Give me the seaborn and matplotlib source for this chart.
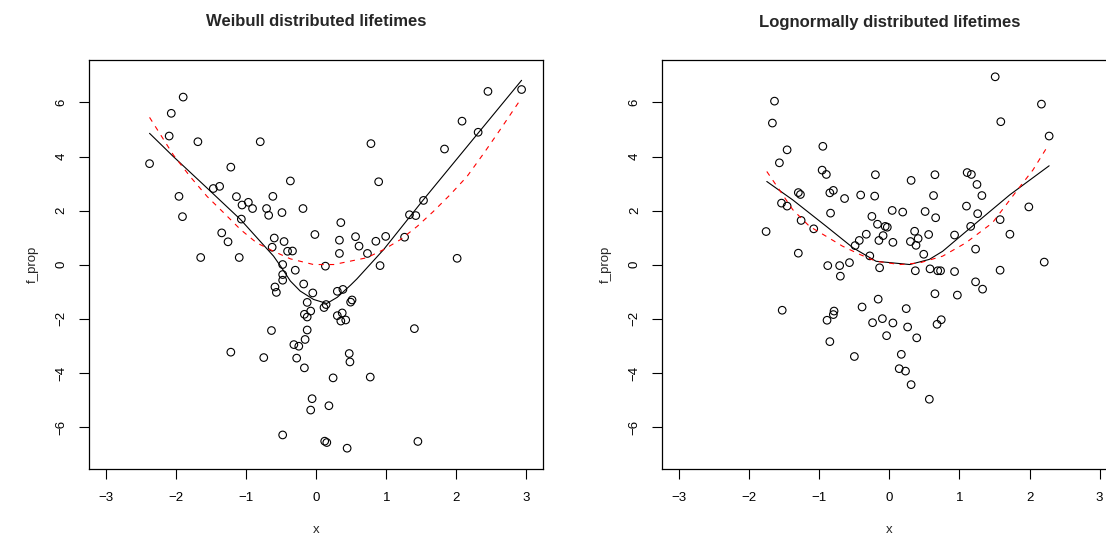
import matplotlib
matplotlib.use("Agg")
import matplotlib.pyplot as plt
import seaborn as sns
import pandas as pd

# ---------------- data ----------------
# Weibull panel: scatter
weib_x = [-1.90, -2.07, -2.10, -1.69, -0.80, -2.38, -1.22, -0.37, -1.47, -1.38,
          -1.96, -1.14, -0.62, -0.97, -1.06, -0.91, -0.71, -0.19, -0.68, -0.49,
          -1.91, -1.07, -0.02, -1.35, -1.26, -0.60, -0.46, -0.63, -0.41, -0.34,
          -1.65, -1.10, -0.48, -0.30, -0.48, -0.48, -0.59, -0.57, -0.18, -0.05,
          -0.13, -0.08, -0.17, -0.13, -0.64, -0.13, -0.16, -0.32, -0.25, -1.22,
          -0.75, -0.28, -0.17, -0.06, -0.08, -0.48, 2.45, 2.93, 2.08, 2.31,
          1.83, 0.78, 0.89, 1.53, 1.33, 1.42, 0.35, 0.33, 0.56, 0.85,
          0.99, 1.26, 0.61, 0.33, 0.73, 2.01, 0.13, 0.91, 0.30, 0.38,
          0.14, 0.11, 0.49, 0.51, 0.30, 0.37, 0.35, 0.42, 1.40, 0.47,
          0.48, 0.24, 0.77, 0.18, 0.12, 0.15, 0.44, 1.45]
weib_y = [6.20, 5.60, 4.76, 4.55, 4.55, 3.74, 3.61, 3.10, 2.82, 2.90,
          2.53, 2.52, 2.53, 2.31, 2.21, 2.08, 2.08, 2.08, 1.83, 1.93,
          1.78, 1.69, 1.12, 1.18, 0.85, 0.99, 0.86, 0.65, 0.50, 0.51,
          0.27, 0.27, 0.01, -0.20, -0.36, -0.57, -0.82, -1.02, -0.71, -1.04,
          -1.39, -1.71, -1.83, -1.93, -2.43, -2.41, -2.76, -2.95, -3.01, -3.23,
          -3.43, -3.45, -3.81, -4.95, -5.37, -6.29, 6.41, 6.48, 5.31, 4.90,
          4.28, 4.48, 3.07, 2.38, 1.85, 1.82, 1.56, 0.91, 1.04, 0.87,
          1.05, 1.02, 0.69, 0.42, 0.42, 0.24, -0.05, -0.03, -0.98, -0.91,
          -1.47, -1.58, -1.38, -1.30, -1.88, -1.78, -2.08, -2.04, -2.36, -3.28,
          -3.59, -4.18, -4.15, -5.21, -6.52, -6.57, -6.78, -6.53]
# Weibull panel: fitted (solid black) and true (dashed red) curves
weib_fit_x = [-2.38, -2.04, -1.56, -1.08, -0.61, -0.51, -0.37, -0.23, -0.04, 0.15,
              0.30, 0.49, 0.58, 0.96, 1.53, 2.32, 2.93]
weib_fit_y = [4.86, 4.00, 2.84, 1.67, 0.32, -0.05, -0.60, -0.97, -1.28, -1.43,
              -1.20, -0.75, -0.52, 0.56, 2.41, 4.90, 6.82]
weib_true_x = [-2.38, -2.04, -1.80, -1.56, -1.32, -1.08, -0.85, -0.61, -0.37, -0.04,
               0.25, 0.72, 0.96, 1.20, 1.44, 1.67, 1.91, 2.15, 2.39, 2.62, 2.91]
weib_true_y = [5.45, 4.06, 3.26, 2.53, 1.92, 1.30, 0.81, 0.50, 0.22, 0.01,
               0.01, 0.26, 0.56, 0.93, 1.42, 1.97, 2.59, 3.26, 4.12, 4.98, 6.09]

# Lognormal panel: scatter
logn_x = [-1.64, -1.67, -1.46, -0.95, -1.57, -0.96, -0.90, -0.20, -1.30, -1.27,
          -0.85, -0.80, -0.64, -0.41, -0.21, -1.54, -1.46, -0.84, -0.25, -0.17,
          -1.26, -1.08, -1.76, -0.33, -0.15, -0.43, -0.49, -0.28, -1.30, -0.57,
          -0.88, -0.71, -0.70, -0.14, 1.51, 2.17, 1.59, 2.28, 0.31, 0.65,
          1.11, 1.17, 1.25, 1.32, 0.63, 0.04, 0.19, 0.51, 0.66, 1.10,
          1.26, 1.99, -0.06, -0.03, 1.16, 1.58, -0.09, 0.36, 0.41, 0.05,
          0.30, 0.38, 0.56, 0.93, 1.72, 0.49, 1.23, 0.37, 0.58, 0.69,
          0.73, 0.93, 1.58, 2.21, 1.23, -1.53, -0.79, -0.80, -0.89, -0.39,
          -0.24, -0.16, -0.85, -0.50, -0.10, 1.33, 0.65, 0.97, 0.24, 0.05,
          0.26, 0.74, 0.68, -0.04, 0.39, 0.17, 0.14, 0.23, 0.31, 0.57]
logn_y = [6.05, 5.24, 4.25, 4.38, 3.77, 3.50, 3.34, 3.33, 2.67, 2.60,
          2.66, 2.75, 2.45, 2.58, 2.54, 2.28, 2.17, 1.91, 1.79, 1.50,
          1.64, 1.33, 1.23, 1.13, 0.90, 0.90, 0.71, 0.33, 0.43, 0.08,
          -0.03, -0.03, -0.42, -0.11, 6.95, 5.94, 5.29, 4.76, 3.12, 3.33,
          3.41, 3.34, 2.97, 2.56, 2.56, 2.01, 1.95, 1.97, 1.74, 2.17,
          1.89, 2.14, 1.42, 1.39, 1.42, 1.67, 1.08, 1.24, 0.97, 0.83,
          0.86, 0.72, 1.12, 1.10, 1.13, 0.39, 0.58, -0.22, -0.15, -0.22,
          -0.22, -0.25, -0.20, 0.10, -0.63, -1.68, -1.71, -1.84, -2.05, -1.56,
          -2.14, -1.27, -2.84, -3.39, -1.99, -0.90, -1.07, -1.12, -1.62, -2.15,
          -2.30, -2.03, -2.20, -2.62, -2.70, -3.31, -3.84, -3.93, -4.43, -4.97]
logn_fit_x = [-1.75, -1.38, -0.90, -0.52, -0.19, 0.29, 0.57, 0.76, 1.24, 1.72, 2.28]
logn_fit_y = [3.08, 2.40, 1.42, 0.63, 0.13, 0.01, 0.20, 0.50, 1.55, 2.59, 3.66]
logn_true_x = [-1.75, -1.57, -1.38, -1.14, -0.90, -0.67, -0.42, -0.19, 0.15, 0.43,
               0.76, 1.09, 1.47, 1.81, 2.05, 2.27]
logn_true_y = [3.45, 2.77, 2.04, 1.42, 1.05, 0.69, 0.38, 0.13, 0.01, 0.07,
               0.32, 0.81, 1.55, 2.71, 3.51, 4.43]

titles = ["Weibull distributed lifetimes", "Lognormally distributed lifetimes"]
xticks = [-3, -2, -1, 0, 1, 2, 3]
yticks = [-6, -4, -2, 0, 2, 4, 6]

# ---------------- style ----------------
sns.set_style("ticks")
plt.rcParams['font.family'] = ['Liberation Sans', 'DejaVu Sans']
plt.rcParams['axes.unicode_minus'] = True

W, H = 1106, 545
fig = plt.figure(figsize=(W / 100, H / 100), dpi=100)
ax_left, ax_top, ax_bot, ax_w = 89.3, 60.3, 469.3, 454.0
ax_h = ax_bot - ax_top
ax1 = fig.add_axes([ax_left / W, 1 - ax_bot / H, ax_w / W, ax_h / H])
ax2 = fig.add_axes([662.4 / W, 1 - ax_bot / H, ax_w / W, ax_h / H])

panels = [
    (ax1, weib_x, weib_y, weib_fit_x, weib_fit_y, weib_true_x, weib_true_y, titles[0]),
    (ax2, logn_x, logn_y, logn_fit_x, logn_fit_y, logn_true_x, logn_true_y, titles[1]),
]

for ax, px, py, fx, fy, tx, ty, title in panels:
    pts = pd.DataFrame({"x": px, "f_prop": py})
    sns.scatterplot(data=pts, x="x", y="f_prop", ax=ax, marker="o", s=30,
                    facecolor="none", edgecolor="black", linewidth=0.8, zorder=3)
    fit = pd.DataFrame({"x": fx, "y": fy})
    sns.lineplot(data=fit, x="x", y="y", ax=ax, sort=False, estimator=None,
                 color="black", linewidth=0.8, zorder=4)
    tru = pd.DataFrame({"x": tx, "y": ty})
    sns.lineplot(data=tru, x="x", y="y", ax=ax, sort=False, estimator=None,
                 color="#FF0000", linewidth=0.8, linestyle=(0, (4.5, 5)), zorder=4)

    ax.set_xlim(-3.24, 3.24)
    ax.set_ylim(-7.56, 7.56)
    ax.set_xticks(xticks)
    ax.set_yticks(yticks)
    ax.set_xticklabels([str(v).replace('-', '\u2212') for v in xticks])
    ax.set_yticklabels([str(v).replace('-', '\u2212') for v in yticks],
                       rotation=90, va='center')
    ax.tick_params(axis='both', direction='out', length=7.5, width=0.8,
                   color='black', labelsize=9.5, labelcolor='black')
    ax.tick_params(axis='x', pad=8.5)
    ax.tick_params(axis='y', pad=8.0)
    for sp in ax.spines.values():
        sp.set_visible(True)
        sp.set_linewidth(0.9)
        sp.set_color('black')

    ax.set_xlabel("x", fontsize=9.5)
    ax.set_ylabel("f_prop", fontsize=9.5)
    ax.xaxis.set_label_coords(0.5, -(533 - ax_bot) / ax_h)
    ax.xaxis.label.set_va('baseline')
    ax.yaxis.set_label_coords(-(ax_left - 33) / ax_w, 0.5)
    ax.yaxis.label.set_va('center')

    ax.text(0.5, 1 + (ax_top - 22) / ax_h, title, transform=ax.transAxes,
            ha='center', va='center', fontsize=12, fontweight='bold')

fig.savefig("out.png", dpi=100)
